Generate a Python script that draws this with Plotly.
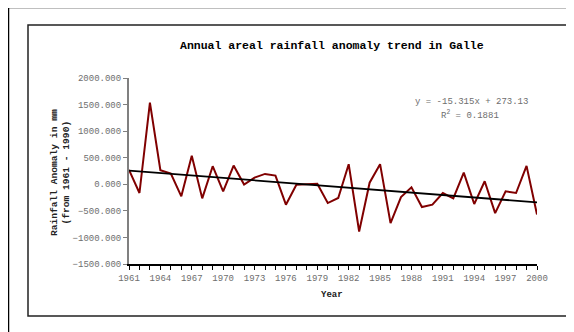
import plotly.graph_objects as go

years = list(range(1961, 2001))
anomaly = [270, -164, 1537, 265, 200, -227, 535, -265, 340, -132,
           353, -6, 126, 195, 164, -384, -10, -5, 10, -353,
           -258, 378, -888, 30, 378, -730, -240, -57, -428, -384,
           -164, -265, 220, -372, 57, -542, -132, -164, 346, -567]
slope = -15.315
intercept = 273.13
r2 = 0.1881
x_tick_labels = list(range(1961, 2001, 3))
y_ticks = [-1500, -1000, -500, 0, 500, 1000, 1500, 2000]

trend = [intercept + slope * (i + 1) for i in range(len(years))]

OFF = 8  # page body margin
W, H = 574 - OFF, 332 - OFF
def px(x):
    return (x - OFF) / W
def py(y):
    return 1 - (y - OFF) / H

mono = "Liberation Mono, Courier New, monospace"

fig = go.Figure()
fig.add_trace(go.Scatter(x=years, y=anomaly, mode="lines",
                         line=dict(color="#800000", width=2), showlegend=False))
fig.add_trace(go.Scatter(x=years, y=trend, mode="lines",
                         line=dict(color="#000000", width=1.8), showlegend=False))

fig.update_layout(
    width=W, height=H,
    margin=dict(l=0, r=0, t=0, b=0),
    paper_bgcolor="white", plot_bgcolor="white",
    font=dict(family=mono, size=9, color="#6e6e6e"),
    xaxis=dict(domain=[px(129), px(537)], range=[1961, 2000],
               tickvals=x_tick_labels, ticks="outside", ticklen=4, tickcolor="black",
               showline=True, linecolor="black", linewidth=2, showgrid=False,
               zeroline=False, automargin=False,
               minor=dict(dtick=1, tick0=1961, ticks="outside", ticklen=4, tickcolor="black", showgrid=False),
               tickfont=dict(family=mono, size=9, color="#6e6e6e")),
    yaxis=dict(domain=[py(264), py(78)], range=[-1500, 2000],
               tickvals=y_ticks, tickformat=".3f", ticks="outside", ticklen=4,
               tickcolor="#808080", showline=True, linecolor="#808080", linewidth=2,
               showgrid=False, zeroline=False, automargin=False,
               tickfont=dict(family=mono, size=9, color="#6e6e6e")),
)

def note(text, x, y, size, color, angle=0):
    fig.add_annotation(text=text, x=px(x), y=py(y), xref="paper", yref="paper",
                       xanchor="center", yanchor="middle", textangle=angle,
                       showarrow=False, font=dict(family=mono, size=size, color=color))

note("<b>Annual areal rainfall anomaly trend in Galle</b>", 332, 46, 11.5, "black")
note("<b>Year</b>", 332, 295, 9, "#222222")
note("<b>Rainfall Anomaly in mm<br>(from 1961 - 1990)</b>", 60, 173, 9.6, "#222222", -90)
note(f"y = {slope}x + {intercept}", 471, 102, 9, "#6e6e6e")
note(f"R<sup>2</sup> = {r2}", 470, 115, 9, "#6e6e6e")

# outer frame (left and top edges)
fig.add_shape(type="path", xref="paper", yref="paper",
              path=f"M {px(8)},{-0.1} L {px(8)},{py(7)} L {1.1},{py(7)}",
              line=dict(color="black", width=2.5))
# inner chart border
fig.add_shape(type="rect", xref="paper", yref="paper",
              x0=px(28), x1=px(570), y0=py(316), y1=py(25),
              line=dict(color="#222222", width=1.5))

fig.write_html("out.html")
